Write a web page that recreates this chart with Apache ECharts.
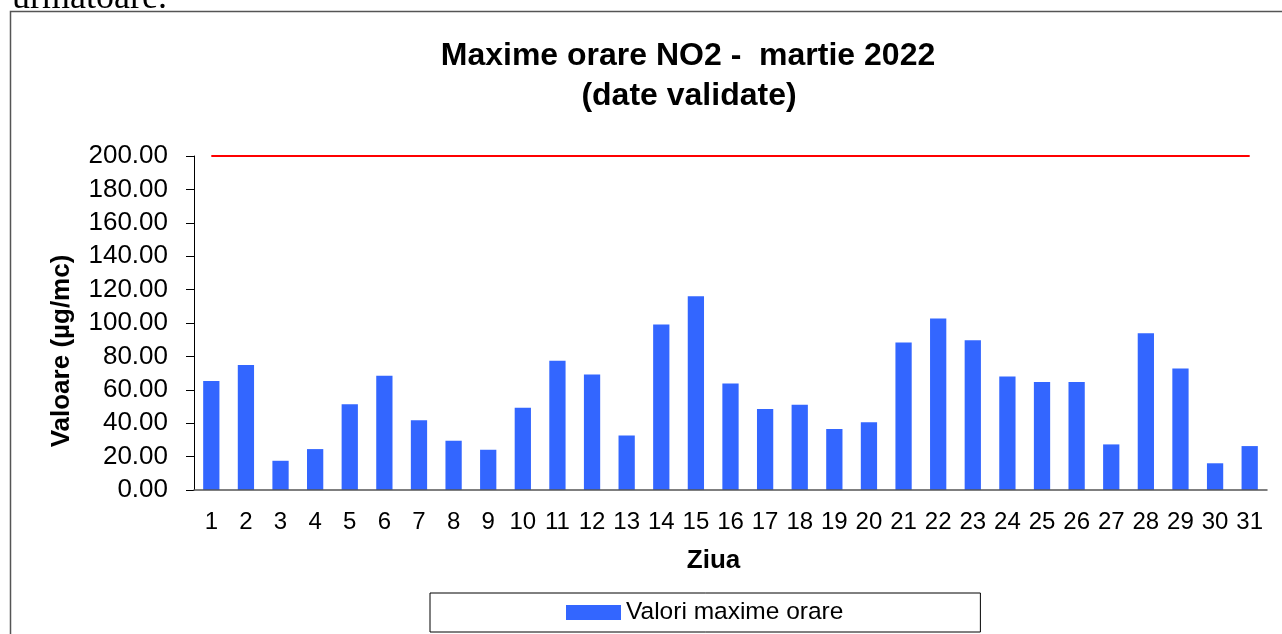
<!DOCTYPE html>
<html>
<head>
<meta charset="utf-8">
<script src="https://cdn.jsdelivr.net/npm/echarts@6/dist/echarts.min.js"></script>
<style>
  html, body { margin: 0; padding: 0; background: #fff; }
  #chart { width: 1282px; height: 634px; }
</style>
</head>
<body>
<div id="chart"></div>
<script>
const days = ['1','2','3','4','5','6','7','8','9','10','11','12','13','14','15','16',
  '17','18','19','20','21','22','23','24','25','26','27','28','29','30','31']
const maxValues = [65.2, 74.8, 17.5, 24.5, 51.3, 68.4, 41.7, 29.5, 24.1, 49.2, 77.4,
  69.2, 32.7, 99.1, 116.0, 63.8, 48.5, 51.1, 36.5, 40.5, 88.3, 102.7, 89.7, 68.0,
  64.6, 64.6, 27.3, 93.9, 72.8, 16.0, 26.3]
const limitValue = 200
const yTicks = { min: 0, max: 200, interval: 20 }

const font = 'Liberation Sans, Arial, sans-serif'
const chart = echarts.init(document.getElementById('chart'))

chart.setOption({
  animation: false,
  graphic: [
    {
      type: 'rect',
      shape: { x: 10.5, y: 11.5, width: 1300, height: 640 },
      style: { fill: 'none', stroke: '#555', lineWidth: 1.5 },
      silent: true
    },
    {
      type: 'text',
      x: 12, y: 17,
      style: { text: 'urmatoare.', font: '36px Liberation Serif, serif', fill: '#000', verticalAlign: 'bottom' },
      silent: true
    },
    {
      type: 'text',
      x: 688, y: 56,
      style: { text: 'Maxime orare NO2 -  martie 2022', font: 'bold 32px ' + font, fill: '#000', align: 'center', verticalAlign: 'middle' },
      silent: true
    },
    {
      type: 'text',
      x: 689, y: 96,
      style: { text: '(date validate)', font: 'bold 32px ' + font, fill: '#000', align: 'center', verticalAlign: 'middle' },
      silent: true
    },
    {
      type: 'text',
      x: 62, y: 351,
      rotation: Math.PI / 2,
      style: { text: 'Valoare (µg/mc)', font: 'bold 26px ' + font, fill: '#000', align: 'center', verticalAlign: 'middle' },
      silent: true
    }
  ],
  legend: {
    data: ['Valori maxime orare'],
    left: 430,
    top: 593,
    padding: [7, 137, 7, 136],
    borderColor: '#000',
    borderWidth: 1,
    itemWidth: 55,
    itemHeight: 15,
    icon: 'rect',
    textStyle: { fontFamily: font, fontSize: 24.5, color: '#000', lineHeight: 24 }
  },
  grid: { left: 194, right: 15, top: 156, height: 334 },
  xAxis: {
    type: 'category',
    data: days,
    name: 'Ziua',
    nameLocation: 'middle',
    nameGap: 58,
    nameTextStyle: { fontFamily: font, fontSize: 26, fontWeight: 'bold', color: '#000', padding: [0, 34, 0, 0] },
    axisTick: { show: false },
    axisLine: { lineStyle: { color: '#555', width: 1.5 } },
    axisLabel: { fontFamily: font, fontSize: 24, color: '#000', margin: 20, interval: 0 },
    z: 5
  },
  yAxis: {
    type: 'value',
    min: yTicks.min,
    max: yTicks.max,
    interval: yTicks.interval,
    axisLine: { show: true, lineStyle: { color: '#000', width: 1 } },
    axisTick: { show: true, length: 8, lineStyle: { color: '#000' } },
    splitLine: { show: false },
    axisLabel: {
      fontFamily: font, fontSize: 26, color: '#000', margin: 26,
      formatter: (v) => v.toFixed(2)
    }
  },
  series: [
    {
      name: 'Valori maxime orare',
      type: 'bar',
      data: maxValues,
      barWidth: '47%',
      itemStyle: { color: '#3366ff' },
      markLine: {
        silent: true,
        symbol: 'none',
        label: { show: false },
        lineStyle: { color: '#ff0000', width: 2, type: 'solid' },
        data: [[{ coord: [days[0], limitValue] }, { coord: [days[days.length - 1], limitValue] }]]
      }
    }
  ]
})
</script>
</body>
</html>
